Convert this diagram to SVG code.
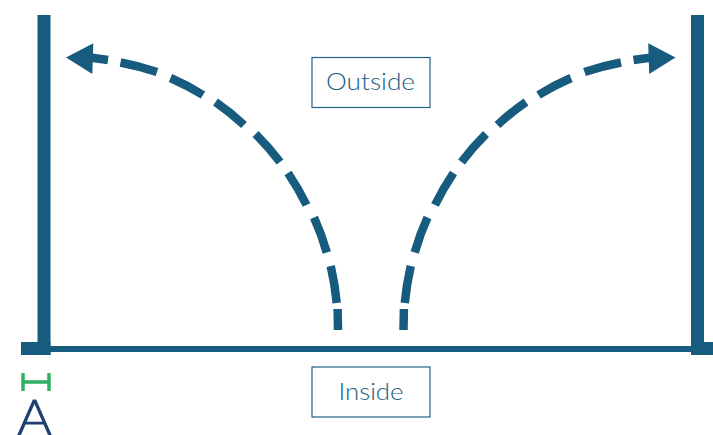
<svg xmlns="http://www.w3.org/2000/svg" width="713" height="435" viewBox="0 0 713 435">
<defs>
<style>
.wall{fill:#175c7f}
.arc{fill:none;stroke:#175c7f;stroke-width:8.5;stroke-linecap:butt}
.head{fill:#175c7f}
.box{fill:#fff;stroke:#1f6185;stroke-width:1.2}
.lbl{font-family:"Lato","Open Sans",sans-serif;font-size:24px;fill:#175c7f;font-weight:300}
</style>
<g id="arcShape">
<path class="arc" d="M338 330L337.6 309M336.7 303Q335 284.3 330.7 266M326.8 252.5Q321.7 234.5 314 217.5M306.5 205Q298.3 188.3 288 173M280 162Q268.8 147.1 255.5 134M244 125Q230.6 112.5 215.5 102M203 95Q187.4 85.3 170.5 78M157 72Q139.1 66 120.5 62.5M108 60L90 57.5"/>
<polygon class="head" points="66,57.5 93.3,43.3 92.3,74"/>
</g>
</defs>
<rect width="713" height="435" fill="#fff"/>
<g id="walls">
<rect class="wall" x="37.5" y="15" width="13" height="340"/>
<rect class="wall" x="21" y="342" width="29.5" height="13"/>
<rect class="wall" x="50" y="346" width="642" height="6"/>
<rect class="wall" x="691" y="15" width="13" height="340"/>
<rect class="wall" x="691" y="342" width="22" height="13"/>
</g>
<g id="connectors">
<use href="#arcShape"/>
<use href="#arcShape" transform="translate(741.5 0) scale(-1 1)"/>
</g>
<g id="outside">
<rect class="box" x="312" y="57.5" width="118" height="50"/>
<text class="lbl" x="326" y="90" textLength="89" lengthAdjust="spacingAndGlyphs">Outside</text>
</g>
<g id="inside">
<rect class="box" x="312" y="367" width="118" height="50"/>
<text class="lbl" x="338.5" y="400" textLength="65" lengthAdjust="spacingAndGlyphs">Inside</text>
</g>
<g id="dimension">
<path d="M23 373V391M49 373V391M23 382H49" fill="none" stroke="#2fb064" stroke-width="3.5"/>
</g>
<g id="markA">
<text x="17" y="435" textLength="35" lengthAdjust="spacingAndGlyphs" style="font-family:'Lato','Open Sans',sans-serif;font-size:49px;font-weight:300;fill:#1f3f6e;stroke:#1f3f6e;stroke-width:0.8">A</text>
</g>
</svg>
